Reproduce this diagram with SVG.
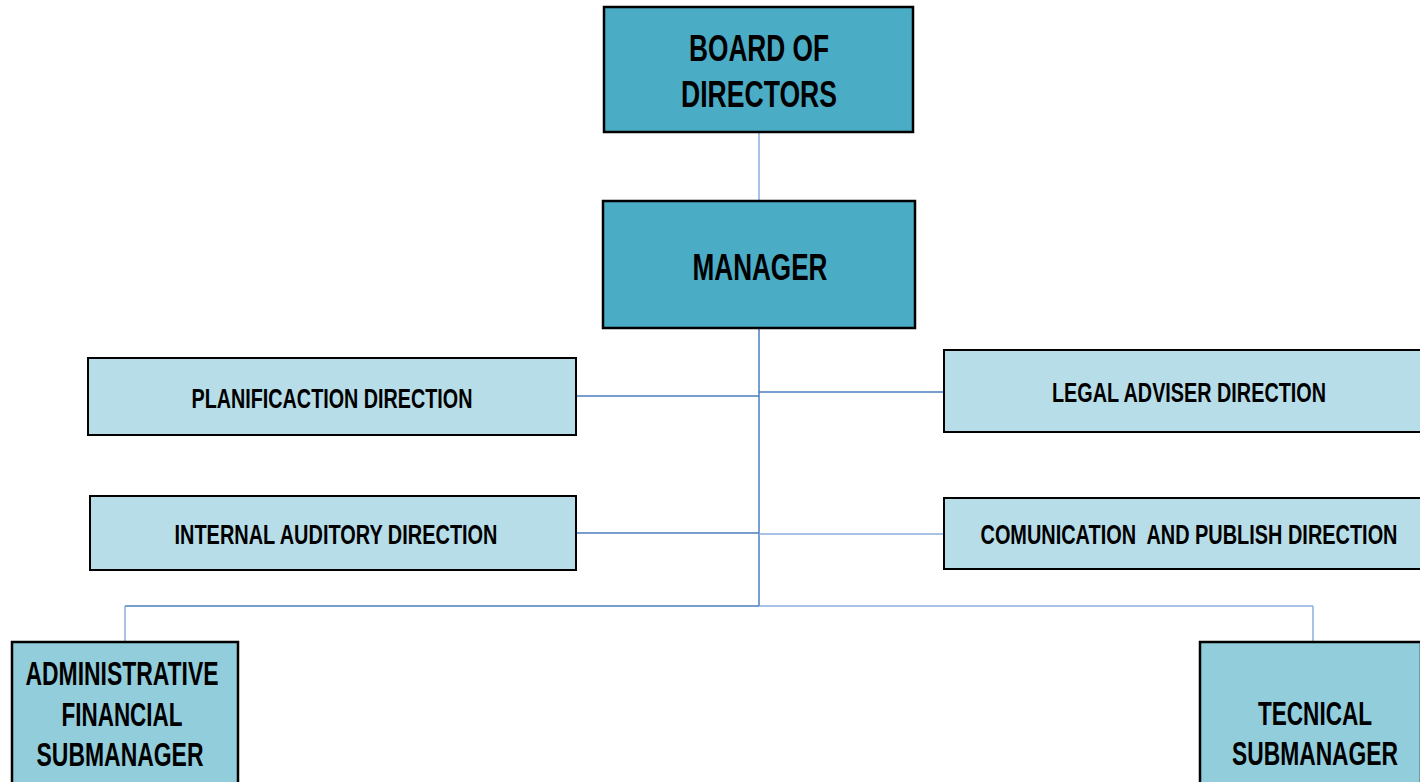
<svg xmlns="http://www.w3.org/2000/svg" width="1420" height="782" viewBox="0 0 1420 782">
<style>
.t{font-family:"Liberation Sans Narrow","Arial Narrow","Liberation Sans",sans-serif;font-weight:bold;fill:#000;text-anchor:middle}
.big{font-size:37px}
.mid{font-size:27px}
.sub{font-size:33px}
.dark{fill:#4BACC6;stroke:#000;stroke-width:2.5}
.light{fill:#B7DDE8;stroke:#000;stroke-width:2}
.subf{fill:#92CDDC;stroke:#000;stroke-width:2.5}
.c{stroke:#4A7EBB;stroke-width:1.5;fill:none}
.c2{stroke:#8AAEDC;stroke-width:1.5;fill:none}
</style>
<rect width="1420" height="782" fill="#fff"/>
<g id="connectors">
<line class="c2" x1="759" y1="133" x2="759" y2="201"/>
<line class="c" x1="759" y1="329" x2="759" y2="606"/>
<line class="c" x1="576" y1="396" x2="759" y2="396"/>
<line class="c" x1="759" y1="392" x2="944" y2="392"/>
<line class="c" x1="576" y1="533" x2="759" y2="533"/>
<line class="c2" x1="759" y1="534" x2="944" y2="534"/>
<line class="c" x1="125" y1="606" x2="759" y2="606"/>
<line class="c2" x1="759" y1="606" x2="1313" y2="606"/>
<line class="c2" x1="125" y1="606" x2="125" y2="642"/>
<line class="c2" x1="1313" y1="606" x2="1313" y2="642"/>
</g>
<g id="board">
<rect class="dark" x="604" y="7" width="309" height="125"/>
<text class="t big" x="759" y="61" textLength="140" lengthAdjust="spacingAndGlyphs">BOARD OF</text>
<text class="t big" x="759" y="107" textLength="156" lengthAdjust="spacingAndGlyphs">DIRECTORS</text>
</g>
<g id="manager">
<rect class="dark" x="603" y="201" width="312" height="127"/>
<text class="t big" x="760" y="280" textLength="135" lengthAdjust="spacingAndGlyphs">MANAGER</text>
</g>
<g id="planification">
<rect class="light" x="88" y="358" width="488" height="77"/>
<text class="t mid" x="332" y="408" textLength="281" lengthAdjust="spacingAndGlyphs">PLANIFICACTION DIRECTION</text>
</g>
<g id="legal">
<rect class="light" x="944" y="350" width="477" height="82"/>
<text class="t mid" x="1189" y="402" textLength="274" lengthAdjust="spacingAndGlyphs">LEGAL ADVISER DIRECTION</text>
</g>
<g id="internal">
<rect class="light" x="90" y="496" width="486" height="74"/>
<text class="t mid" x="336" y="544" textLength="323" lengthAdjust="spacingAndGlyphs">INTERNAL AUDITORY DIRECTION</text>
</g>
<g id="comunication">
<rect class="light" x="944" y="498" width="477" height="71"/>
<text class="t mid" x="1189" y="544" textLength="417" lengthAdjust="spacingAndGlyphs" xml:space="preserve">COMUNICATION  AND PUBLISH DIRECTION</text>
</g>
<g id="admin">
<rect class="subf" x="12" y="642" width="226" height="142"/>
<text class="t sub" x="122" y="685" textLength="193" lengthAdjust="spacingAndGlyphs">ADMINISTRATIVE</text>
<text class="t sub" x="122" y="726" textLength="121" lengthAdjust="spacingAndGlyphs">FINANCIAL</text>
<text class="t sub" x="120" y="766" textLength="167" lengthAdjust="spacingAndGlyphs">SUBMANAGER</text>
</g>
<g id="tecnical">
<rect class="subf" x="1200" y="642" width="221" height="142"/>
<text class="t sub" x="1315" y="725" textLength="114" lengthAdjust="spacingAndGlyphs">TECNICAL</text>
<text class="t sub" x="1315" y="765" textLength="166" lengthAdjust="spacingAndGlyphs">SUBMANAGER</text>
</g>
</svg>
